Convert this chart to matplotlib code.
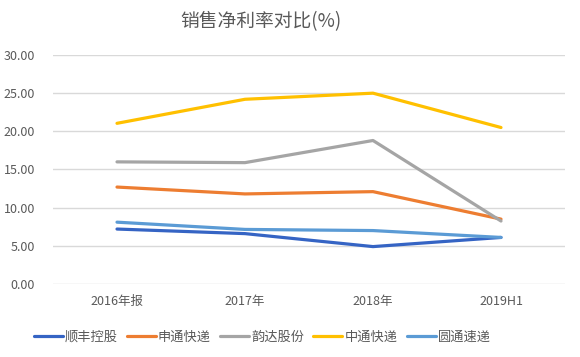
import matplotlib
matplotlib.use("Agg")
import matplotlib.pyplot as plt

plt.rcParams['font.family'] = ['Noto Sans CJK SC', 'DejaVu Sans']

categories = ['2016年报', '2017年', '2018年', '2019H1']
series_names = ['顺丰控股', '申通快递', '韵达股份', '中通快递', '圆通速递']
shunfeng = [7.2, 6.6, 4.9, 6.1]
shentong = [12.7, 11.8, 12.1, 8.5]
yunda = [16.0, 15.9, 18.8, 8.25]
zhongtong = [21.05, 24.2, 25.0, 20.5]
yuantong = [8.1, 7.15, 7.0, 6.1]
yticks = [0, 5, 10, 15, 20, 25, 30]

colors = ['#3564C4', '#ED7D31', '#A5A5A5', '#FFC000', '#5B9BD5']
values = [shunfeng, shentong, yunda, zhongtong, yuantong]

fig = plt.figure(figsize=(5.8, 3.57), dpi=100)
ax = fig.add_axes([53/580, 1-284/357, (565-53)/580, (284-55)/357])

x = list(range(len(categories)))
for name, vals, c in zip(series_names, values, colors):
    ax.plot(x, vals, color=c, lw=2.3, label=name, solid_capstyle='round')

ax.set_xlim(-0.5, len(categories)-0.5)
ax.set_ylim(0, 30)
ax.set_yticks(yticks)
ax.set_yticklabels([f'{v:.2f}' for v in yticks])
ax.set_xticks(x)
ax.set_xticklabels(categories)
ax.tick_params(axis='both', length=0, labelsize=9, colors='#595959')
ax.tick_params(axis='y', pad=13)
ax.tick_params(axis='x', pad=8)
ax.grid(axis='y', color='#D9D9D9', lw=1)
ax.set_axisbelow(True)
for s in ax.spines.values():
    s.set_visible(False)

fig.suptitle('销售净利率对比(%)', x=0.45, y=0.968, fontsize=13.5, color='#595959')
fig.legend(loc='center', bbox_to_anchor=(0.452, 1-337/357), ncol=5, frameon=False,
           fontsize=9.5, handlelength=2.2, columnspacing=0.7, handletextpad=0.15,
           labelcolor='#595959')

fig.savefig('out.png', dpi=100)
